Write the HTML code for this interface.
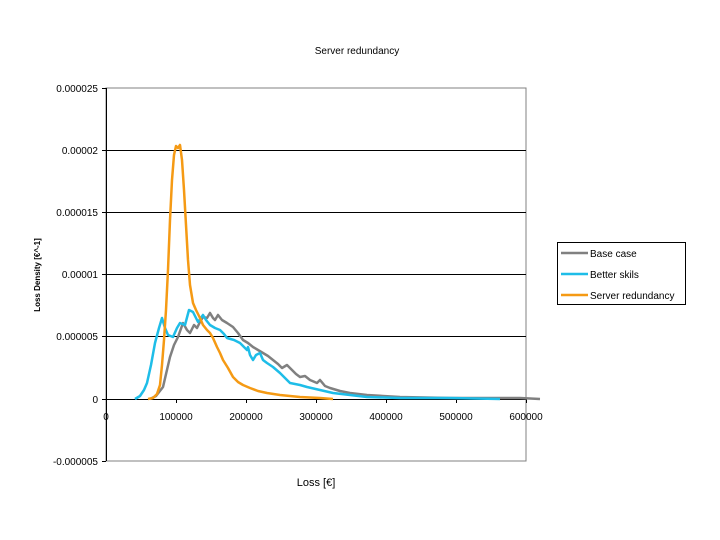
<!DOCTYPE html>
<html><head><meta charset="utf-8"><style>
body{margin:0;background:#fff}
svg{display:block;font-family:"Liberation Sans",sans-serif}
</style></head><body>
<svg width="720" height="540" viewBox="0 0 720 540">
<rect width="720" height="540" fill="#fff"/>
<text x="357" y="54" font-size="10" text-anchor="middle">Server redundancy</text>
<rect x="106" y="88" width="420" height="373" fill="none" stroke="#808080" stroke-width="1"/>
<g stroke="#000" stroke-width="1">
<line x1="106" y1="150.5" x2="526" y2="150.5"/>
<line x1="106" y1="212.5" x2="526" y2="212.5"/>
<line x1="106" y1="274.5" x2="526" y2="274.5"/>
<line x1="106" y1="336.5" x2="526" y2="336.5"/>
<line x1="106" y1="399.5" x2="526" y2="399.5"/>
<line x1="106.5" y1="88" x2="106.5" y2="461"/>
<line x1="102" y1="88.5" x2="106" y2="88.5"/><line x1="102" y1="150.5" x2="106" y2="150.5"/>
<line x1="102" y1="212.5" x2="106" y2="212.5"/><line x1="102" y1="274.5" x2="106" y2="274.5"/>
<line x1="102" y1="336.5" x2="106" y2="336.5"/><line x1="102" y1="399.5" x2="106" y2="399.5"/>
<line x1="102" y1="461.5" x2="106" y2="461.5"/>
<line x1="176.5" y1="399" x2="176.5" y2="403"/><line x1="246.5" y1="399" x2="246.5" y2="403"/>
<line x1="316.5" y1="399" x2="316.5" y2="403"/><line x1="386.5" y1="399" x2="386.5" y2="403"/>
<line x1="456.5" y1="399" x2="456.5" y2="403"/><line x1="526.5" y1="399" x2="526.5" y2="403"/>
</g>
<g font-size="10" text-anchor="end">
<text x="98" y="92">0.000025</text><text x="98" y="154">0.00002</text>
<text x="98" y="216">0.000015</text><text x="98" y="278">0.00001</text>
<text x="98" y="340">0.000005</text><text x="98" y="403">0</text>
<text x="98" y="465">-0.000005</text>
</g>
<g font-size="10" text-anchor="middle">
<text x="106" y="420">0</text><text x="176" y="420">100000</text><text x="246" y="420">200000</text>
<text x="316" y="420">300000</text><text x="386" y="420">400000</text><text x="456" y="420">500000</text>
<text x="526" y="420">600000</text>
</g>
<text x="316" y="486" font-size="11" text-anchor="middle">Loss [€]</text>
<text x="40" y="275" font-size="8" font-weight="bold" text-anchor="middle" transform="rotate(-90 40 275)">Loss Density [€^-1]</text>
<g fill="none" stroke-width="2.5" stroke-linejoin="round">
<polyline stroke="#808080" points="150,399 156,396 163,387 170,357 174,345 178,337 183,323 187,330 190,333 194,325 197,328 200,322 203,317 207,318 210,313 213,318 215,320 218,315 222,320 227,323 233,327 238,333 243,340 248,343 253,347 258,350 263,353 268,356 273,360 278,364 282,368 287,365 292,370 296,374 300,377 305,376 310,380 317,383 320,380 325,386 330,388 340,391 350,393 367,395 400,397 450,398 520,398 540,399"/>
<polyline stroke="#1ebde8" points="135,399 140,396 144,390 147,383 151,365 155,343 159,328 162,318 165,328 168,335 173,337 177,328 180,323 185,325 189,310 193,312 196,318 198,322 203,315 206,320 210,325 215,328 220,330 224,334 227,338 234,340 240,343 244,347 247,350 248,347 250,355 253,360 256,355 260,353 263,360 267,363 273,367 280,373 285,378 290,383 300,385 307,387 320,390 333,393 350,395 367,397 400,398 450,398 500,399"/>
<polyline stroke="#f59a14" points="148,399 153,398 157,394 160,385 162,365 164,340 166,310 168,270 170,220 172,180 174,155 176,146 178,148 180,145 182,160 184,190 186,225 188,260 190,285 193,303 196,310 200,318 203,325 207,330 210,333 213,338 217,347 220,353 223,360 228,368 233,377 238,382 243,385 250,388 258,391 267,393 280,395 300,397 320,398 333,399"/>
</g>
<rect x="557.5" y="242.5" width="128" height="62" fill="#fff" stroke="#000"/>
<g stroke-width="2.5">
<line x1="561" y1="253" x2="588" y2="253" stroke="#808080"/>
<line x1="561" y1="274" x2="588" y2="274" stroke="#1ebde8"/>
<line x1="561" y1="295" x2="588" y2="295" stroke="#f59a14"/>
</g>
<g font-size="10">
<text x="590" y="257">Base case</text>
<text x="590" y="278">Better skils</text>
<text x="590" y="299">Server redundancy</text>
</g>
</svg>
</body></html>
